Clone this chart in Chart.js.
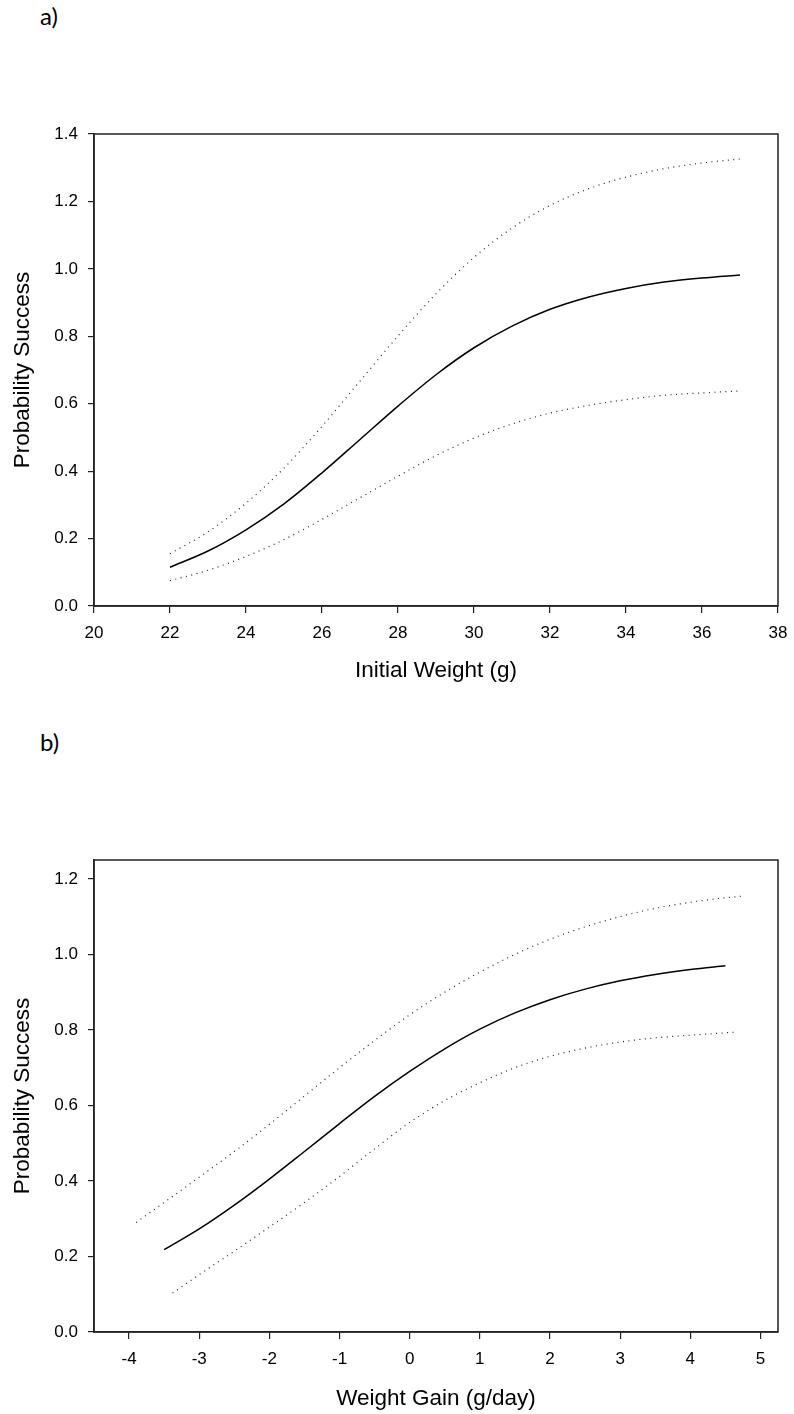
<!DOCTYPE html>
<html>
<head>
<meta charset="utf-8">
<script src="https://cdn.jsdelivr.net/npm/chart.js@4.4.0/dist/chart.umd.min.js"></script>
<style>
  body { margin: 0; background: #fff; width: 794px; height: 1414px; position: relative; overflow: hidden; }
  .panel { position: absolute; left: 40px; font-family: Lato, "Open Sans", sans-serif; font-size: 24px; line-height: 24px; color: #000; }
  .box { position: absolute; left: 0; width: 794px; }
</style>
</head>
<body>
<div class="panel" style="top:4px">a)</div>
<div class="panel" style="top:730px">b)</div>
<div class="box" style="top:0;height:710px"><canvas id="chartA" width="794" height="710"></canvas></div>
<div class="box" style="top:720px;height:694px"><canvas id="chartB" width="794" height="694"></canvas></div>
<script>
// a) probability vs initial weight
var weightX     = [22, 23, 24, 25, 26, 27, 28, 29, 30, 31, 32, 33, 34, 35, 36, 37];
var weightMean  = [0.115, 0.163, 0.226, 0.303, 0.395, 0.494, 0.593, 0.686, 0.766, 0.830, 0.880, 0.916, 0.942, 0.961, 0.973, 0.982];
var weightUpper = [0.155, 0.220, 0.305, 0.409, 0.533, 0.667, 0.801, 0.926, 1.034, 1.121, 1.188, 1.237, 1.272, 1.297, 1.314, 1.326];
var weightLower = [0.075, 0.106, 0.147, 0.197, 0.257, 0.321, 0.385, 0.446, 0.498, 0.540, 0.572, 0.595, 0.612, 0.625, 0.632, 0.638];
var weightTicksX = [20, 22, 24, 26, 28, 30, 32, 34, 36, 38];
var weightTicksY = [0, 0.2, 0.4, 0.6, 0.8, 1.0, 1.2, 1.4];

// b) probability vs weight gain
var gainX     = [-3.5, -3, -2.5, -2, -1.5, -1, -0.5, 0, 0.5, 1, 1.5, 2, 2.5, 3, 3.5, 4, 4.5];
var gainMean  = [0.218, 0.273, 0.336, 0.405, 0.478, 0.552, 0.624, 0.690, 0.750, 0.802, 0.845, 0.880, 0.908, 0.930, 0.947, 0.960, 0.970];
var gainUpperX = [-3.9, -3.5, -3, -2.5, -2, -1.5, -1, -0.5, 0, 0.5, 1, 1.5, 2, 2.5, 3, 3.5, 4, 4.4, 4.77];
var gainUpper  = [0.29, 0.343, 0.41, 0.478, 0.55, 0.625, 0.70, 0.772, 0.84, 0.90, 0.953, 1.0, 1.04, 1.073, 1.10, 1.122, 1.138, 1.148, 1.155];
var gainLowerX = [-3.38, -3, -2.5, -2, -1.5, -1, -0.5, 0, 0.5, 1, 1.5, 2, 2.5, 3, 3.5, 4, 4.63];
var gainLower  = [0.103, 0.152, 0.214, 0.278, 0.343, 0.412, 0.485, 0.555, 0.613, 0.66, 0.70, 0.73, 0.752, 0.768, 0.779, 0.786, 0.794];
var gainTicksX = [-4, -3, -2, -1, 0, 1, 2, 3, 4, 5];
var gainTicksY = [0, 0.2, 0.4, 0.6, 0.8, 1.0, 1.2];

var FONT = '"Liberation Sans", Arial, sans-serif';

function pts(xs, ys) {
  return xs.map(function (x, i) { return { x: x, y: ys[i] }; });
}

function solid(data) {
  return { data: data, borderColor: '#000', borderWidth: 1.5, pointRadius: 0, cubicInterpolationMode: 'monotone' };
}
function dotted(data) {
  return { data: data, borderColor: '#222', borderWidth: 1.2, borderDash: [1, 4.5], pointRadius: 0, cubicInterpolationMode: 'monotone' };
}

// box round the plot area
var frame = {
  id: 'frame',
  afterDraw: function (chart) {
    var ctx = chart.ctx, a = chart.chartArea;
    ctx.save();
    ctx.strokeStyle = '#222';
    ctx.lineWidth = 1.5;
    ctx.strokeRect(a.left, a.top, a.right - a.left, a.bottom - a.top);
    ctx.restore();
  }
};

function makeChart(id, datasets, o) {
  return new Chart(document.getElementById(id), {
    type: 'line',
    data: { datasets: datasets },
    plugins: [frame],
    options: {
      responsive: false,
      animation: false,
      layout: { padding: { top: o.padTop, right: 16, left: 0, bottom: 0 } },
      plugins: { legend: { display: false }, tooltip: { enabled: false } },
      scales: {
        x: {
          type: 'linear',
          min: o.xMin, max: o.xMax,
          afterBuildTicks: function (s) { s.ticks = o.ticksX.map(function (v) { return { value: v }; }); },
          afterFit: function (s) { s.height = o.xHeight; s.paddingLeft = 0; s.paddingRight = 0; },
          grid: { drawOnChartArea: false, tickLength: 7, color: '#222', lineWidth: 1.2 },
          border: { display: true, color: '#222', width: 1.5 },
          ticks: { color: '#000', padding: 10, maxRotation: 0, font: { family: FONT, size: 17 },
                   callback: function (v) { return String(v); } },
          title: { display: true, text: o.xTitle, color: '#000', padding: { top: 0, bottom: o.titlePad },
                   font: { family: FONT, size: 22.5 } }
        },
        y: {
          min: 0, max: o.yMax,
          afterBuildTicks: function (s) { s.ticks = o.ticksY.map(function (v) { return { value: v }; }); },
          afterFit: function (s) { s.width = 94; },
          grid: { drawOnChartArea: false, tickLength: 6, color: '#222', lineWidth: 1.2 },
          border: { display: true, color: '#222', width: 1.5 },
          ticks: { color: '#000', padding: 10, font: { family: FONT, size: 17 },
                   callback: function (v) { return v.toFixed(1); } },
          title: { display: true, text: 'Probability Success', color: '#000', padding: { top: 9, bottom: 0 },
                   font: { family: FONT, size: 22.5 } }
        }
      }
    }
  });
}

makeChart('chartA', [
  dotted(pts(weightX, weightUpper)),
  solid(pts(weightX, weightMean)),
  dotted(pts(weightX, weightLower))
], { padTop: 134, xHeight: 104, titlePad: 25.5, xMin: 20, xMax: 38, yMax: 1.4,
     ticksX: weightTicksX, ticksY: weightTicksY, xTitle: 'Initial Weight (g)' });

makeChart('chartB', [
  dotted(pts(gainUpperX, gainUpper)),
  solid(pts(gainX, gainMean)),
  dotted(pts(gainLowerX, gainLower))
], { padTop: 140, xHeight: 82, titlePad: 1.5, xMin: -4.5, xMax: 5.25, yMax: 1.25,
     ticksX: gainTicksX, ticksY: gainTicksY, xTitle: 'Weight Gain (g/day)' });
</script>
</body>
</html>
